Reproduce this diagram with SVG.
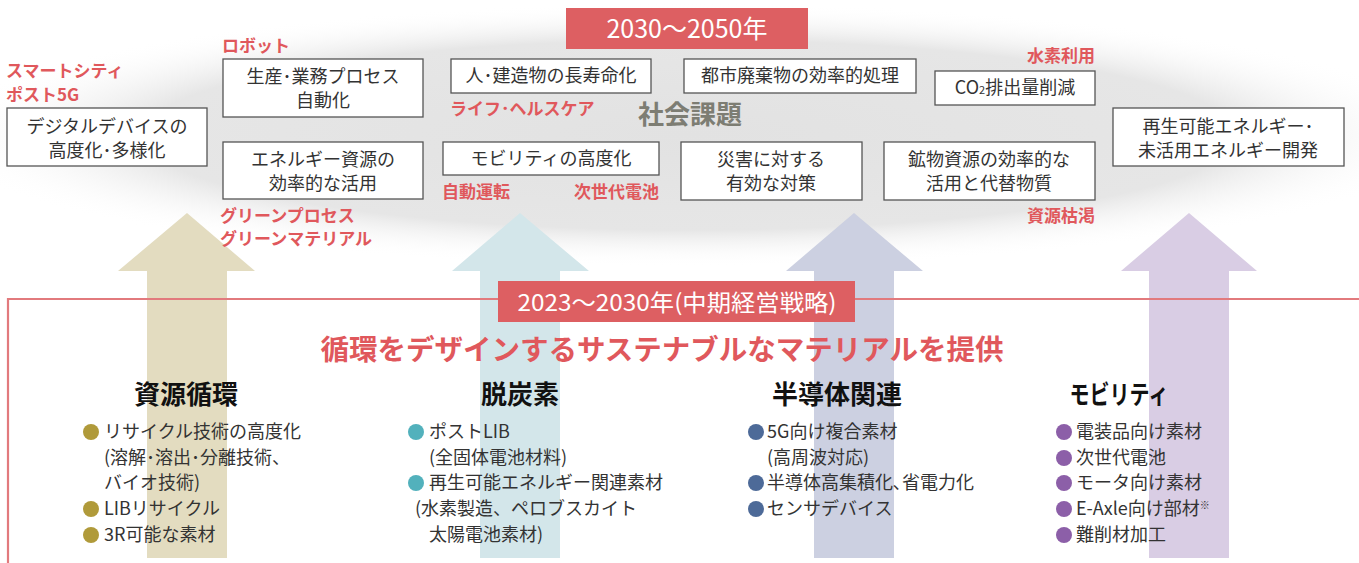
<svg xmlns="http://www.w3.org/2000/svg" width="1359" height="563" viewBox="0 0 1359 563">
<defs>
<radialGradient id="bg" cx="0.5" cy="0.5" r="0.5">
<stop offset="0" stop-color="#e2e2e2"/>
<stop offset="0.72" stop-color="#e6e6e6"/>
<stop offset="1" stop-color="#ffffff" stop-opacity="0"/>
</radialGradient>
<style>
text{font-family:"Noto Sans CJK JP","Noto Sans",sans-serif}
.box{fill:#fff;stroke:#555;stroke-width:1.3}
.bt{font-size:18px;fill:#333;text-anchor:middle}
.red{font-size:17px;font-weight:700;fill:#e0585c}
.hd{font-size:26px;font-weight:700;fill:#111;text-anchor:middle}
.li{font-size:18px;fill:#333}
.c1{fill:#b09a3a}.c2{fill:#52b1bc}.c3{fill:#4d6a98}.c4{fill:#8c5fa8}
</style>
</defs>
<rect width="1359" height="563" fill="#fff"/>
<ellipse cx="690" cy="135" rx="760" ry="132" fill="url(#bg)"/>

<g id="arrows">
<polygon points="187,213 255,271 227,271 227,558 147,558 147,271 118,271" fill="#e3dcc0"/>
<polygon points="520,213 589,271 560,271 560,558 480,558 480,271 452,271" fill="#d3e6ea"/>
<polygon points="854,213 923,271 894,271 894,558 814,558 814,271 786,271" fill="#ccd0e1"/>
<polygon points="1189,213 1257,271 1229,271 1229,558 1149,558 1149,271 1121,271" fill="#d9cde4"/>
</g>

<g id="period-top">
<rect x="566" y="8" width="242" height="41" fill="#dd5f62"/>
<text x="687" y="38" font-size="25" fill="#fff" text-anchor="middle">2030〜2050年</text>
</g>

<text x="690" y="124" font-size="26" font-weight="700" fill="#7d7d73" text-anchor="middle">社会課題</text>

<g id="n-digital"><rect class="box" x="7" y="108" width="200" height="58"/>
<text class="bt" x="107" y="133">デジタルデバイスの</text><text class="bt" x="107" y="157">高度化･多様化</text></g>
<g id="n-automation"><rect class="box" x="223" y="59" width="200" height="58"/>
<text class="bt" x="323" y="83">生産･業務プロセス</text><text class="bt" x="323" y="107">自動化</text></g>
<g id="n-energy"><rect class="box" x="223" y="142" width="200" height="57"/>
<text class="bt" x="323" y="166">エネルギー資源の</text><text class="bt" x="323" y="190">効率的な活用</text></g>
<g id="n-longevity"><rect class="box" x="451" y="59" width="200" height="34"/>
<text class="bt" x="551" y="82">人･建造物の長寿命化</text></g>
<g id="n-waste"><rect class="box" x="684" y="59" width="232" height="34"/>
<text class="bt" x="800" y="82">都市廃棄物の効率的処理</text></g>
<g id="n-co2"><rect class="box" x="935" y="71" width="160" height="34"/>
<text class="bt" x="1015" y="94">CO<tspan font-size="11">2</tspan>排出量削減</text></g>
<g id="n-mobility"><rect class="box" x="443" y="142" width="216" height="33"/>
<text class="bt" x="551" y="165">モビリティの高度化</text></g>
<g id="n-disaster"><rect class="box" x="681" y="142" width="181" height="58"/>
<text class="bt" x="771" y="166">災害に対する</text><text class="bt" x="771" y="190">有効な対策</text></g>
<g id="n-mineral"><rect class="box" x="884" y="142" width="211" height="58"/>
<text class="bt" x="989" y="166">鉱物資源の効率的な</text><text class="bt" x="989" y="190">活用と代替物質</text></g>
<g id="n-renew"><rect class="box" x="1113" y="108" width="231" height="58"/>
<text class="bt" x="1228" y="133">再生可能エネルギー･</text><text class="bt" x="1228" y="157">未活用エネルギー開発</text></g>

<g id="red-labels">
<text class="red" x="6" y="77" font-size="16.5">スマートシティ</text>
<text class="red" x="6" y="101" font-size="16.5">ポスト5G</text>
<text class="red" x="222" y="52">ロボット</text>
<text class="red" x="220" y="222">グリーンプロセス</text>
<text class="red" x="220" y="245">グリーンマテリアル</text>
<text class="red" x="450" y="115">ライフ･ヘルスケア</text>
<text class="red" x="442" y="198">自動運転</text>
<text class="red" x="659" y="198" text-anchor="end">次世代電池</text>
<text class="red" x="1095" y="62" text-anchor="end">水素利用</text>
<text class="red" x="1095" y="222" text-anchor="end">資源枯渇</text>
</g>

<g id="frame">
<path d="M8,563 V299 H1359" fill="none" stroke="#e27a7d" stroke-width="2.2"/>
</g>

<g id="period-mid">
<rect x="498" y="281" width="357" height="41" fill="#dd5f62"/>
<text x="677" y="311" font-size="23" fill="#fff" text-anchor="middle" textLength="319" lengthAdjust="spacingAndGlyphs">2023〜2030年(中期経営戦略)</text>
</g>

<text x="662" y="360" font-size="28.5" font-weight="700" fill="#e0585c" text-anchor="middle">循環をデザインするサステナブルなマテリアルを提供</text>

<g id="col-resource">
<text class="hd" x="186" y="404">資源循環</text>
<circle class="c1" cx="91" cy="432" r="8"/><text class="li" x="104" y="438">リサイクル技術の高度化</text>
<text class="li" x="104" y="464">(溶解･溶出･分離技術、</text>
<text class="li" x="104" y="489">バイオ技術)</text>
<circle class="c1" cx="91" cy="509" r="8"/><text class="li" x="104" y="515">LIBリサイクル</text>
<circle class="c1" cx="91" cy="535" r="8"/><text class="li" x="104" y="541">3R可能な素材</text>
</g>

<g id="col-decarb">
<text class="hd" x="520" y="404">脱炭素</text>
<circle class="c2" cx="416" cy="432" r="8"/><text class="li" x="429" y="438">ポストLIB</text>
<text class="li" x="429" y="464">(全固体電池材料)</text>
<circle class="c2" cx="416" cy="483" r="8"/><text class="li" x="429" y="489">再生可能エネルギー関連素材</text>
<text class="li" x="415" y="515">(水素製造、ペロブスカイト</text>
<text class="li" x="429" y="541">太陽電池素材)</text>
</g>

<g id="col-semi">
<text class="hd" x="837" y="404">半導体関連</text>
<circle class="c3" cx="756" cy="432" r="8"/><text class="li" x="767" y="438">5G向け複合素材</text>
<text class="li" x="767" y="464">(高周波対応)</text>
<circle class="c3" cx="756" cy="483" r="8"/><text class="li" x="767" y="489">半導体高集積化､省電力化</text>
<circle class="c3" cx="756" cy="509" r="8"/><text class="li" x="767" y="515">センサデバイス</text>
</g>

<g id="col-mobility">
<text class="hd" x="1119" y="404" textLength="99" lengthAdjust="spacingAndGlyphs">モビリティ</text>
<circle class="c4" cx="1064" cy="432" r="8"/><text class="li" x="1076" y="438">電装品向け素材</text>
<circle class="c4" cx="1064" cy="458" r="8"/><text class="li" x="1076" y="464">次世代電池</text>
<circle class="c4" cx="1064" cy="483" r="8"/><text class="li" x="1076" y="489">モータ向け素材</text>
<circle class="c4" cx="1064" cy="509" r="8"/><text class="li" x="1076" y="515">E-Axle向け部材<tspan font-size="10" dy="-6">※</tspan></text>
<circle class="c4" cx="1064" cy="535" r="8"/><text class="li" x="1076" y="541">難削材加工</text>
</g>
</svg>
